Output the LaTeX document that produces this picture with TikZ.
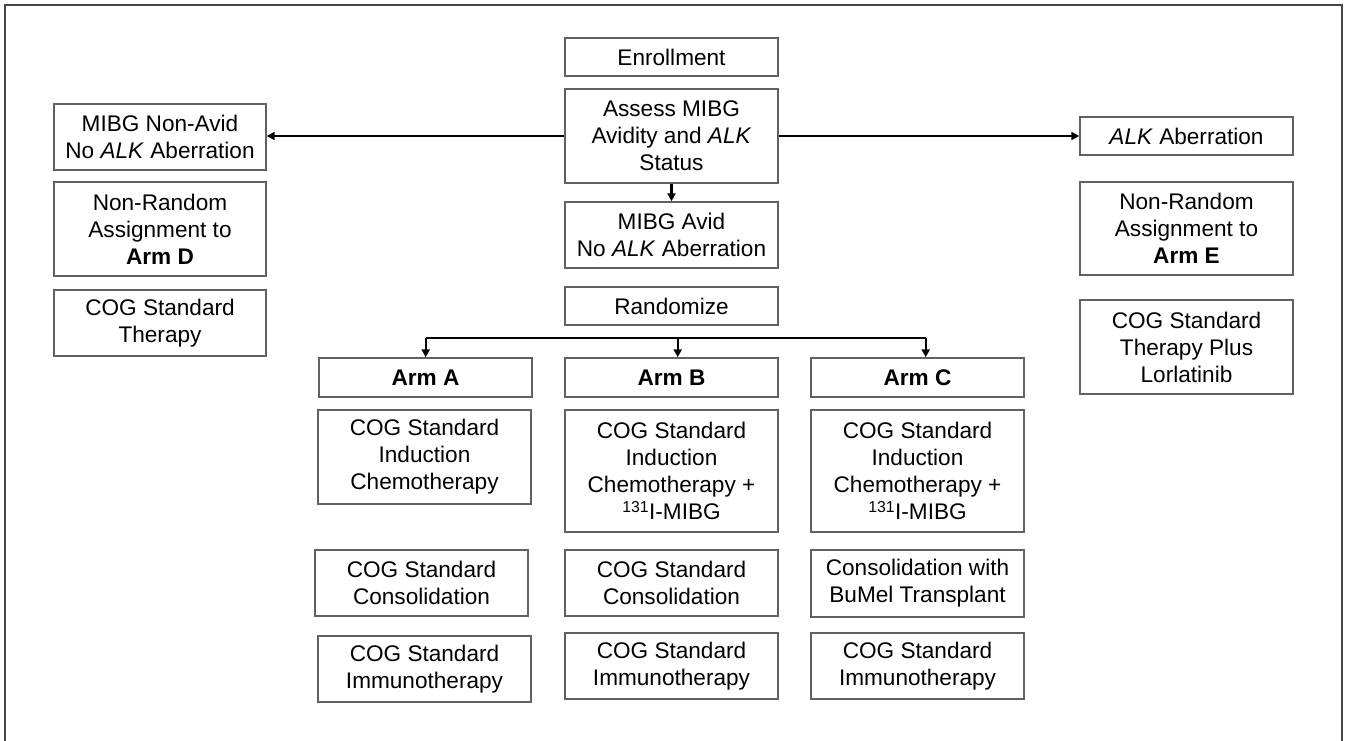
\documentclass[tikz,border=0pt]{standalone}
\usepackage{fontspec}
\setmainfont{Liberation Sans}
\usetikzlibrary{arrows.meta}
\newcommand\mybox[6]{%
  \node[box,minimum width={(#4-#2)*1pt},minimum height={(#5-#3)*1pt}] (#1) at ({(#2+#4)/2},{(#3+#5)/2}) {#6};}
\tikzset{
  box/.style={draw=black!62,line width=1.4pt,inner sep=0pt,align=center,fill=white,
    font=\fontsize{22.6}{27}\selectfont},
  conn/.style={line width=2.4pt,black},
  arr/.style={conn,-{Triangle[length=8pt,width=8pt]}},
  frame/.style={draw=black!72,line width=2pt}
}
\begin{document}
\begin{tikzpicture}[x=1pt,y=-1pt]
\useasboundingbox (0,0) rectangle (1351,741);
\draw[frame] (5,745) -- (5,5) -- (1342,5) -- (1342,745);
% centre column
\mybox{enroll}{565}{38}{778}{76}{Enrollment}
\mybox{assess}{565}{89}{778}{183}{Assess MIBG\\Avidity and \textit{ALK}\\Status}
\mybox{avid}{565}{202}{778}{268}{MIBG Avid\\No \textit{ALK} Aberration}
\mybox{rand}{565}{287}{778}{325}{Randomize}
% left column
\mybox{nonavid}{54}{104}{266}{170}{MIBG Non-Avid\\No \textit{ALK} Aberration}
\mybox{armD}{54}{182}{266}{276}{Non-Random\\Assignment to\\\textbf{Arm D}}
\mybox{stdD}{54}{290}{266}{356}{COG Standard\\Therapy}
% right column
\mybox{alk}{1080}{117}{1293}{155}{\textit{ALK} Aberration}
\mybox{armE}{1080}{182}{1293}{275}{Non-Random\\Assignment to\\\textbf{Arm E}}
\mybox{stdE}{1080}{300}{1293}{394}{COG Standard\\Therapy Plus\\Lorlatinib}
% arm A
\mybox{armA}{319}{358}{532}{397}{\textbf{Arm A}}
\mybox{indA}{318}{410}{531}{504}{COG Standard\\Induction\\Chemotherapy}
\mybox{conA}{315}{550}{528}{616}{COG Standard\\Consolidation}
\mybox{immA}{318}{636}{531}{702}{COG Standard\\Immunotherapy}
% arm B
\mybox{armB}{565}{358}{778}{397}{\textbf{Arm B}}
\mybox{indB}{565}{410}{778}{532}{COG Standard\\Induction\\Chemotherapy +\\\textsuperscript{131}I-MIBG}
\mybox{conB}{565}{550}{778}{616}{COG Standard\\Consolidation}
\mybox{immB}{565}{633}{778}{699}{COG Standard\\Immunotherapy}
% arm C
\mybox{armC}{811}{358}{1024}{397}{\textbf{Arm C}}
\mybox{indC}{811}{410}{1024}{532}{COG Standard\\Induction\\Chemotherapy +\\\textsuperscript{131}I-MIBG}
\mybox{conC}{811}{550}{1024}{617}{Consolidation with\\BuMel Transplant}
\mybox{immC}{811}{633}{1024}{699}{COG Standard\\Immunotherapy}
% connectors
\draw[arr] (assess.west) -- (nonavid.east |- assess.west);
\draw[arr] (assess.east) -- (alk.west |- assess.east);
\draw[arr] (assess.south) -- (avid.north);
\coordinate (bA) at (425.7,338);
\coordinate (bB) at (677.7,338);
\coordinate (bC) at (925.7,338);
\draw[conn] (bA) -- (bC);
\draw[arr] (bA) -- (bA |- armA.north);
\draw[arr] (bB) -- (bB |- armB.north);
\draw[arr] (bC) -- (bC |- armC.north);
\end{tikzpicture}
\end{document}
